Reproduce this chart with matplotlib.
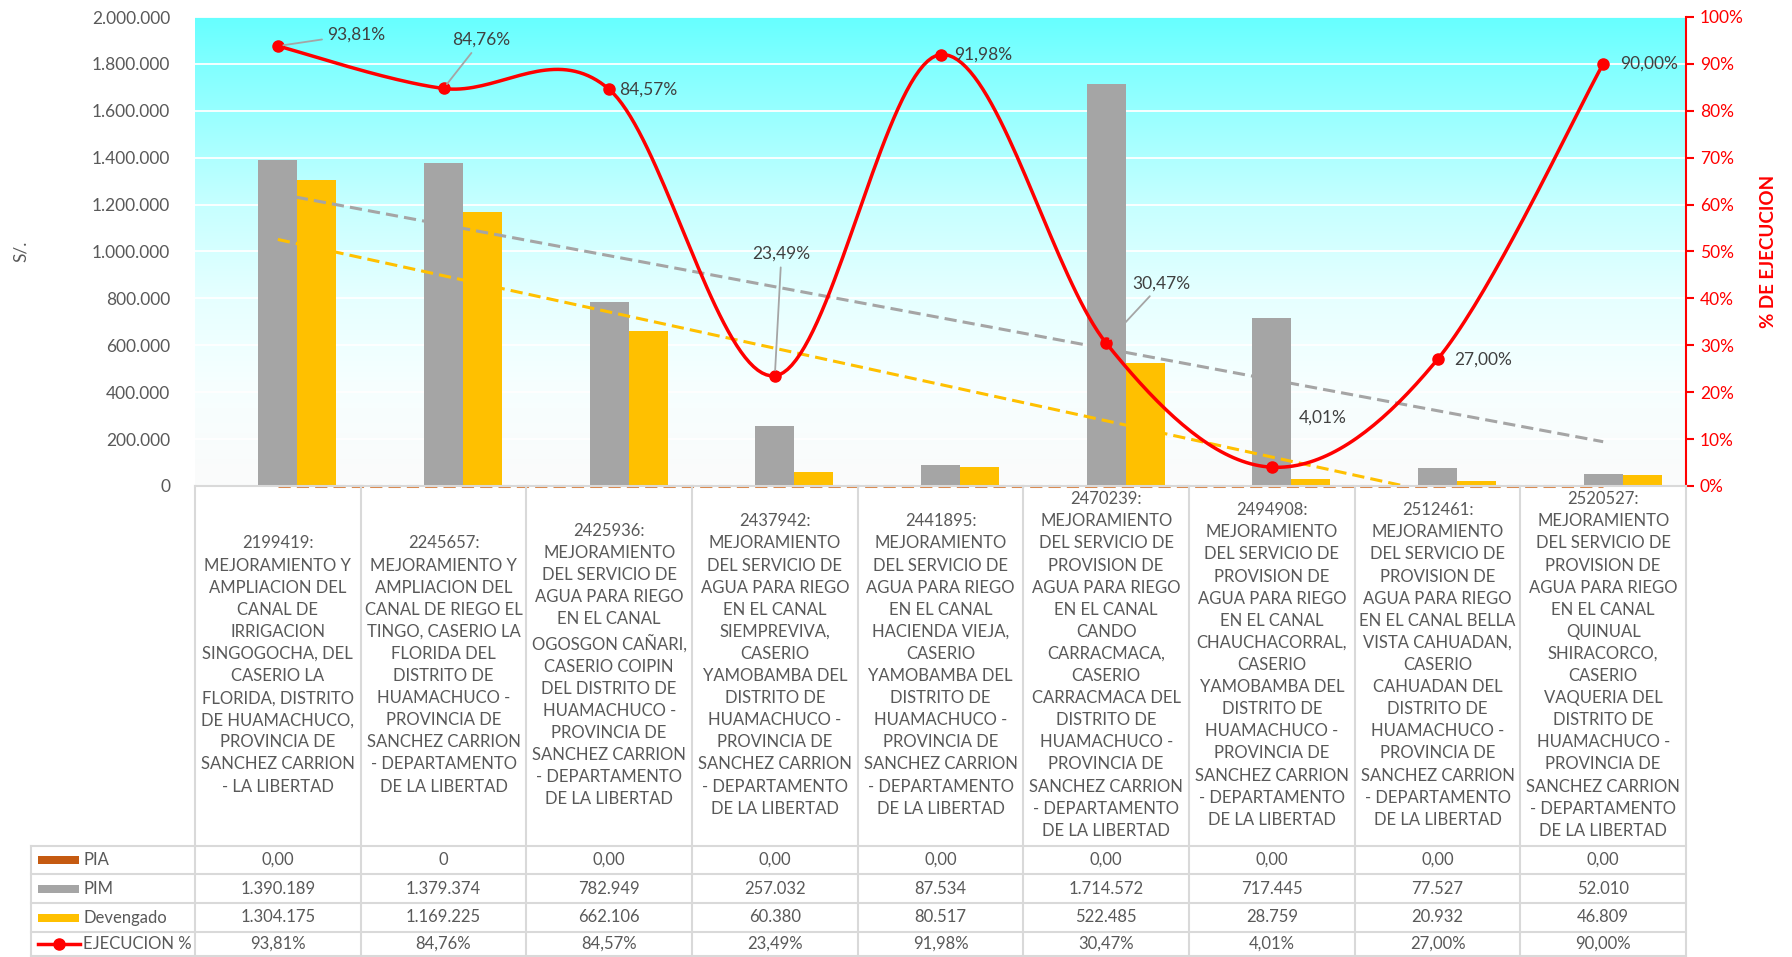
import numpy as np
import matplotlib.pyplot as plt
import matplotlib.transforms as mtransforms
from matplotlib.colors import LinearSegmentedColormap
from matplotlib.lines import Line2D
from matplotlib.patches import Rectangle

plt.rcParams['font.family'] = ['Lato', 'DejaVu Sans']

# Data
codigos = ['2199419', '2245657', '2425936', '2437942', '2441895',
           '2470239', '2494908', '2512461', '2520527']
proyectos = [
    "MEJORAMIENTO Y\nAMPLIACION DEL\nCANAL DE\nIRRIGACION\nSINGOGOCHA, DEL\nCASERIO LA\nFLORIDA, DISTRITO\nDE HUAMACHUCO,\nPROVINCIA DE\nSANCHEZ CARRION\n- LA LIBERTAD",
    "MEJORAMIENTO Y\nAMPLIACION DEL\nCANAL DE RIEGO EL\nTINGO, CASERIO LA\nFLORIDA DEL\nDISTRITO DE\nHUAMACHUCO -\nPROVINCIA DE\nSANCHEZ CARRION\n- DEPARTAMENTO\nDE LA LIBERTAD",
    "MEJORAMIENTO\nDEL SERVICIO DE\nAGUA PARA RIEGO\nEN EL CANAL\nOGOSGON CAÑARI,\nCASERIO COIPIN\nDEL DISTRITO DE\nHUAMACHUCO -\nPROVINCIA DE\nSANCHEZ CARRION\n- DEPARTAMENTO\nDE LA LIBERTAD",
    "MEJORAMIENTO\nDEL SERVICIO DE\nAGUA PARA RIEGO\nEN EL CANAL\nSIEMPREVIVA,\nCASERIO\nYAMOBAMBA DEL\nDISTRITO DE\nHUAMACHUCO -\nPROVINCIA DE\nSANCHEZ CARRION\n- DEPARTAMENTO\nDE LA LIBERTAD",
    "MEJORAMIENTO\nDEL SERVICIO DE\nAGUA PARA RIEGO\nEN EL CANAL\nHACIENDA VIEJA,\nCASERIO\nYAMOBAMBA DEL\nDISTRITO DE\nHUAMACHUCO -\nPROVINCIA DE\nSANCHEZ CARRION\n- DEPARTAMENTO\nDE LA LIBERTAD",
    "MEJORAMIENTO\nDEL SERVICIO DE\nPROVISION DE\nAGUA PARA RIEGO\nEN EL CANAL\nCANDO\nCARRACMACA,\nCASERIO\nCARRACMACA DEL\nDISTRITO DE\nHUAMACHUCO -\nPROVINCIA DE\nSANCHEZ CARRION\n- DEPARTAMENTO\nDE LA LIBERTAD",
    "MEJORAMIENTO\nDEL SERVICIO DE\nPROVISION DE\nAGUA PARA RIEGO\nEN EL CANAL\nCHAUCHACORRAL,\nCASERIO\nYAMOBAMBA DEL\nDISTRITO DE\nHUAMACHUCO -\nPROVINCIA DE\nSANCHEZ CARRION\n- DEPARTAMENTO\nDE LA LIBERTAD",
    "MEJORAMIENTO\nDEL SERVICIO DE\nPROVISION DE\nAGUA PARA RIEGO\nEN EL CANAL BELLA\nVISTA CAHUADAN,\nCASERIO\nCAHUADAN DEL\nDISTRITO DE\nHUAMACHUCO -\nPROVINCIA DE\nSANCHEZ CARRION\n- DEPARTAMENTO\nDE LA LIBERTAD",
    "MEJORAMIENTO\nDEL SERVICIO DE\nPROVISION DE\nAGUA PARA RIEGO\nEN EL CANAL\nQUINUAL\nSHIRACORCO,\nCASERIO\nVAQUERIA DEL\nDISTRITO DE\nHUAMACHUCO -\nPROVINCIA DE\nSANCHEZ CARRION\n- DEPARTAMENTO\nDE LA LIBERTAD",
]
pia = [0, 0, 0, 0, 0, 0, 0, 0, 0]
pia_txt = ['0,00', '0', '0,00', '0,00', '0,00', '0,00', '0,00', '0,00', '0,00']
pim = [1390189, 1379374, 782949, 257032, 87534, 1714572, 717445, 77527, 52010]
devengado = [1304175, 1169225, 662106, 60380, 80517, 522485, 28759, 20932, 46809]
ejecucion = [0.9381, 0.8476, 0.8457, 0.2349, 0.9198, 0.3047, 0.0401, 0.2700, 0.9000]

C_PIA, C_PIM, C_DEV, C_RED = '#C55A11', '#A5A5A5', '#FFC000', '#FF0000'
C_TXT, C_GRID = '#595959', '#D9D9D9'

W, H = 1792, 957
fig = plt.figure(figsize=(W / 100, H / 100), dpi=100)
L, R, T, B = 195, 1686, 17, 486
ax = fig.add_axes([L / W, 1 - B / H, (R - L) / W, (B - T) / H])

# gradient background (cyan top -> white bottom)
grad = np.linspace(0, 1, 256).reshape(-1, 1)
cmap = LinearSegmentedColormap.from_list(
    'bg', [(0.0, '#FBFBFB'), (0.22, '#F6FFFF'), (0.4, '#E6FFFF'),
           (0.6, '#C6FFFF'), (0.9, '#80FFFF'), (1.0, '#66FFFF')])
ax.imshow(grad, cmap=cmap, aspect='auto', extent=[0, 1, 0, 1],
          transform=ax.transAxes, origin='lower', zorder=0)

x = np.arange(len(codigos))
w = 0.235
ax.bar(x - w, pia, w, color=C_PIA, zorder=2)
ax.bar(x, pim, w, color=C_PIM, zorder=2)
ax.bar(x + w, devengado, w, color=C_DEV, zorder=2)

# linear trendlines
xt = np.array([x[0], x[-1]])
for serie, col, clip in [(pim, C_PIM, True), (devengado, C_DEV, True), (pia, '#D9884D', False)]:
    m, b = np.polyfit(x, serie, 1)
    ax.plot(xt, m * xt + b, color=col, lw=2.2, ls=(0, (4, 2)), zorder=3, clip_on=clip)

ax.set_xlim(-0.5, len(codigos) - 0.5)
ax.set_ylim(0, 2000000)
ax.set_yticks(np.arange(0, 2000001, 200000))
ax.set_yticklabels([f'{v:,.0f}'.replace(',', '.') for v in np.arange(0, 2000001, 200000)])
ax.tick_params(axis='y', length=0, pad=18, labelsize=12.5, labelcolor=C_TXT)
ax.set_xticks([])
ax.grid(axis='y', color='white', lw=1.3)
ax.set_axisbelow(True)
for s in ax.spines.values():
    s.set_visible(False)

# % ejecucion on secondary axis
ax2 = ax.twinx()
ax2.set_ylim(0, 1)
ax2.set_yticks(np.arange(0, 1.01, 0.1))
ax2.set_yticklabels([f'{int(round(v * 100))}%' for v in np.arange(0, 1.01, 0.1)])
ax2.tick_params(axis='y', colors=C_RED, direction='out', length=6, width=1.5,
                pad=4, labelsize=12.5)
for k, s in ax2.spines.items():
    s.set_visible(k == 'right')
ax2.spines['right'].set_color(C_RED)
ax2.spines['right'].set_linewidth(1.5)


def smooth(xs, ys, n=40):
    pts = np.column_stack([xs, ys]).astype(float)
    ext = np.vstack([pts[0], pts, pts[-1]])
    t = np.linspace(0, 1, n)[:, None]
    out = []
    for i in range(len(pts) - 1):
        p0, p1, p2, p3 = ext[i], ext[i + 1], ext[i + 2], ext[i + 3]
        c1 = p1 + (p2 - p0) / 6
        c2 = p2 - (p3 - p1) / 6
        out.append((1 - t) ** 3 * p1 + 3 * (1 - t) ** 2 * t * c1
                   + 3 * (1 - t) * t ** 2 * c2 + t ** 3 * p2)
    out = np.vstack(out)
    return out[:, 0], out[:, 1]


sx, sy = smooth(x, ejecucion)
ax2.plot(sx, sy, color=C_RED, lw=2.5, zorder=4)
ax2.plot(x, ejecucion, 'o', color=C_RED, ms=8, zorder=5)

# data labels (offset in category units, label height in fraction, alignment, leader)
lab_pos = [(0.30, 0.963, 'left', True), (0.23, 0.951, 'center', True),
           (0.06, None, 'left', False), (0.04, 0.495, 'center', True),
           (0.08, None, 'left', False), (0.16, 0.432, 'left', True),
           (0.16, 0.146, 'left', False), (0.10, None, 'left', False),
           (0.10, None, 'left', False)]
for xi, v, (dx, ly, ha, leader) in zip(x, ejecucion, lab_pos):
    txt = f'{v * 100:.2f}%'.replace('.', ',')
    ty = v if ly is None else ly
    ap = dict(arrowstyle='-', color='#A5A5A5', lw=1.3, shrinkA=2, shrinkB=4) if leader else None
    ax2.annotate(txt, xy=(xi, v), xytext=(xi + dx, ty), ha=ha, va='center',
                 fontsize=12.5, color='#404040', arrowprops=ap, zorder=6)

# axis titles
fig.text(21 / W, 1 - (T + B) / 2 / H, 'S/.', rotation=90, ha='center', va='center',
         fontsize=12.5, color=C_TXT)
fig.text(1768 / W, 1 - (T + B) / 2 / H, '% DE EJECUCION', rotation=90, ha='center',
         va='center', fontsize=13.5, fontweight='bold', color=C_RED)

# data table
tr = mtransforms.blended_transform_factory(ax.transData, fig.transFigure)
trf = fig.transFigure


def fy(py):
    return 1 - py / H


rows = [846, 874, 903, 932, 956]
edges = np.arange(len(codigos) + 1) - 0.5
for e in edges:
    fig.add_artist(Line2D([e, e], [fy(B), fy(rows[-1])], transform=tr,
                          color=C_GRID, lw=1.5, zorder=1))
fig.add_artist(Line2D([31 / W, 31 / W], [fy(rows[0]), fy(rows[-1])], transform=trf,
                      color=C_GRID, lw=1.5))
fig.add_artist(Line2D([L / W, R / W], [fy(B), fy(B)], transform=trf, color=C_GRID, lw=1.5, zorder=1))
for r in rows:
    fig.add_artist(Line2D([31 / W, R / W], [fy(r), fy(r)], transform=trf, color=C_GRID, lw=1.5))

for xi, cod, proy in zip(x, codigos, proyectos):
    fig.text(xi, fy((B + rows[0]) / 2 - 1), f'{cod}:\n{proy}', transform=tr, ha='center',
             va='center', fontsize=12, color=C_TXT, linespacing=1.47)

row_txt = [
    pia_txt,
    [f'{v:,.0f}'.replace(',', '.') for v in pim],
    [f'{v:,.0f}'.replace(',', '.') for v in devengado],
    [f'{v * 100:.2f}%'.replace('.', ',') for v in ejecucion],
]
row_names = ['PIA', 'PIM', 'Devengado', 'EJECUCION %']
row_cols = [C_PIA, C_PIM, C_DEV, C_RED]
for i, (vals, name, col) in enumerate(zip(row_txt, row_names, row_cols)):
    yc = fy((rows[i] + rows[i + 1]) / 2)
    for xi, t in zip(x, vals):
        fig.text(xi, yc, t, transform=tr, ha='center', va='center', fontsize=12, color=C_TXT)
    if i < 3:
        fig.add_artist(Rectangle((38 / W, yc - 4 / H), 41 / W, 8 / H, transform=trf,
                                 color=col, lw=0))
    else:
        fig.add_artist(Line2D([38 / W, 80 / W], [yc, yc], transform=trf, color=col, lw=2.5))
        fig.add_artist(Line2D([59 / W], [yc], transform=trf, color=col, marker='o', ms=8))
    fig.text(83 / W, yc, name, ha='left', va='center', fontsize=12, color=C_TXT)

fig.savefig('out.png', dpi=100)
